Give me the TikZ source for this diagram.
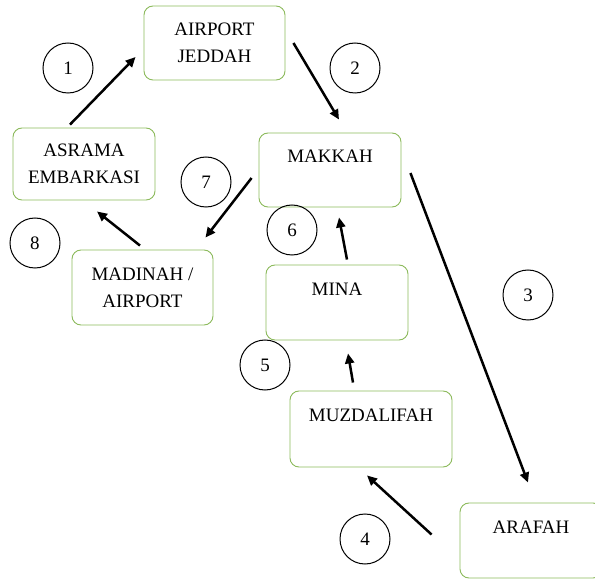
\documentclass[tikz,border=0pt]{standalone}
\usepackage{fontspec}
\setmainfont{Liberation Serif}
\usetikzlibrary{arrows.meta}
\definecolor{boxgreen}{RGB}{140,186,92}
\tikzset{
  place/.style={draw=boxgreen, line width=0.9pt, rounded corners=9pt, align=center,
    inner sep=0pt, font=\fontsize{19}{27}\selectfont},
  stepno/.style={draw, circle, line width=1pt, minimum size=50pt, inner sep=0pt,
    font=\fontsize{19}{22}\selectfont},
  flow/.style={line width=2.5pt, -{Triangle[length=10pt,width=9pt]}}
}
\begin{document}
\begin{tikzpicture}[x=1pt,y=-1pt]
            \useasboundingbox (0,0) rectangle (595,580);

            % Drawing the places
            \node[place, minimum width=141pt, minimum height=74pt] (jeddah) at (214.5,43) {AIRPORT\\JEDDAH};%
            \node[place, minimum width=142pt, minimum height=72pt] (asrama) at (84,164) {ASRAMA\\EMBARKASI};%
            \node[place, minimum width=142pt, minimum height=74pt] (makkah) at (330,170) {MAKKAH\\~};%
            \node[place, minimum width=141pt, minimum height=75pt] (madinah) at (142.5,287.5) {MADINAH /\\AIRPORT};%
            \node[place, minimum width=142pt, minimum height=75pt] (mina) at (337,302.5) {MINA\\~};%
            \node[place, minimum width=162pt, minimum height=76pt] (muzdalifah) at (371,429) {MUZDALIFAH\\~};%
            \node[place, minimum width=142pt, minimum height=75pt] (arafah) at (531,540.5) {ARAFAH\\~};%

            % Marking the steps by circles
            \node[stepno] (no1) at (68,68) {1};%
            \node[stepno] (no2) at (355,68) {2};%
            \node[stepno] (no3) at (528,295) {3};%
            \node[stepno] (no4) at (365,539) {4};%
            \node[stepno] (no5) at (265,365) {5};%
            \node[stepno] (no6) at (292,230) {6};%
            \node[stepno] (no7) at (206,182) {7};%
            \node[stepno] (no8) at (35,243) {8};%

            % Drawing the route
            \draw[flow] ([xshift=-14pt,yshift=3pt]asrama.north) -- ([xshift=-8pt,yshift=-14pt]jeddah.west);%
            \draw[flow] ([xshift=8pt]jeddah.east) -- ([xshift=9pt,yshift=13pt]makkah.north);%
            \draw[flow] ([xshift=9pt,yshift=-3pt]makkah.east) -- ([xshift=-3pt,yshift=20pt]arafah.north);%
            \draw[flow] ([xshift=-28pt,yshift=6pt]arafah.west) -- ([xshift=-4pt,yshift=-8pt]muzdalifah.south);%
            \draw[flow] ([xshift=-18pt,yshift=8pt]muzdalifah.north) -- ([xshift=11pt,yshift=-13pt]mina.south);%
            \draw[flow] ([xshift=10pt,yshift=5pt]mina.north) -- ([xshift=9pt,yshift=-10pt]makkah.south);%
            \draw[flow] ([xshift=-7pt,yshift=-8pt]makkah.west) -- ([xshift=-8pt,yshift=12pt]madinah.north east);%
            \draw[flow] ([xshift=-2.5pt,yshift=4pt]madinah.north) -- ([xshift=13pt,yshift=-11pt]asrama.south);%
\end{tikzpicture}
\end{document}
